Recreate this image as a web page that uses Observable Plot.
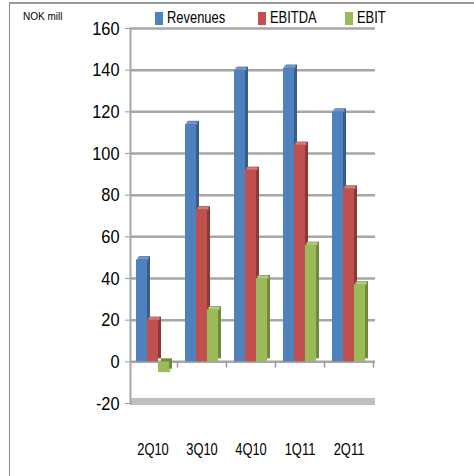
<!DOCTYPE html>
<html><head><meta charset="utf-8">
<script src="https://cdn.jsdelivr.net/npm/d3@7"></script>
<script src="https://cdn.jsdelivr.net/npm/@observablehq/plot@0.6"></script>
<style>
body{margin:0;background:#fff}
#wrap{position:relative;width:474px;height:476px;overflow:hidden;background:#fff}
#border{position:absolute;left:9px;top:2px;width:480px;height:490px;border-top:2px solid #9a9a9a;border-left:1px solid #8a8a8a;pointer-events:none}
#chart{position:absolute;left:0;top:0}
.sw{position:absolute;top:12px;width:8px;height:13px}
.lt{position:absolute;top:8px;font-family:"Liberation Sans",Arial,sans-serif;font-size:17px;line-height:20px;color:#000;white-space:nowrap;transform:scaleX(0.76);transform-origin:0 0}
#unit{position:absolute;left:23px;top:11px;font-family:"Liberation Sans",Arial,sans-serif;font-size:10px;color:#000}
</style></head>
<body>
<div id="wrap">
  <div id="chart"></div>
  <div id="unit">NOK mill</div>
  <div id="legend"></div>
  <div id="border"></div>
</div>
<script>
const quarters = ["2Q10", "3Q10", "4Q10", "1Q11", "2Q11"];
const revenues = [49, 114, 140, 141, 120];
const ebitda   = [20, 73, 92, 104, 83];
const ebit     = [-5, 25, 40, 56, 37];
const seriesNames = ["Revenues", "EBITDA", "EBIT"];
const yTicks = [-20, 0, 20, 40, 60, 80, 100, 120, 140, 160];

const frontColors = ["#4F81BD", "#C0504D", "#9BBB59"];
const sideColors  = ["#385D8A", "#8C3836", "#6E8A3A"];
const topColors   = ["#7397C9", "#D07C7A", "#B3CB85"];
const offsets = [-11, 0, 11];

const rows = quarters.map((q, i) => ({quarter: q, Revenues: revenues[i], EBITDA: ebitda[i], EBIT: ebit[i]}));

const font = "Liberation Sans, Arial, sans-serif";

const barMarks = [];
seriesNames.forEach((s, k) => {
  barMarks.push(Plot.barY(rows, {x: "quarter", y: s, fill: sideColors[k], dx: offsets[k] + 3, dy: -3, insetLeft: 19, insetRight: 19}));
  barMarks.push(Plot.tickY(rows, {x: "quarter", y: s, stroke: topColors[k], strokeWidth: 3, dx: offsets[k] + 1.5, dy: -1.5, insetLeft: 19, insetRight: 19}));
  barMarks.push(Plot.barY(rows, {x: "quarter", y: s, fill: frontColors[k], dx: offsets[k], insetLeft: 19, insetRight: 19}));
});

const chart = Plot.plot({
  width: 474,
  height: 476,
  marginLeft: 130,
  marginRight: 99,
  marginTop: 28,
  marginBottom: 73,
  style: {background: "transparent", fontFamily: font},
  x: {type: "band", domain: quarters, range: [127.5, 372.5], padding: 0},
  y: {domain: [-20, 160]},
  marks: [
    Plot.ruleY(yTicks.filter(d => d >= 0), {stroke: "#a6a6a6", strokeWidth: 2.5}),
    Plot.ruleY([-20], {stroke: "#bfbfbf", strokeWidth: 7, dy: -2}),
    Plot.frame({anchor: "left", stroke: "#a6a6a6", strokeWidth: 2}),
    Plot.ruleX(quarters, {x: d => d, y1: 0, y2: -3, dx: 24.5, stroke: "#999", strokeWidth: 1.5}),
    Plot.axisY({ticks: yTicks, tickFormat: d => String(d), tickSize: 5, tickPadding: 6, fontSize: 19, stroke: "#999", fill: "#000", label: null}),
    Plot.axisX({tickSize: 0, tickPadding: 39, fontSize: 17, fill: "#000", label: null}),
    ...barMarks
  ]
});

document.getElementById("chart").appendChild(chart);

function squeeze(sel, s) {
  chart.querySelectorAll(sel).forEach(el => {
    const w = el.getComputedTextLength();
    if (w > 0) {
      el.setAttribute("textLength", (w * s).toFixed(2));
      el.setAttribute("lengthAdjust", "spacingAndGlyphs");
    }
  });
}
squeeze('g[aria-label="y-axis tick label"] text', 0.86);
squeeze('g[aria-label="x-axis tick label"] text', 0.76);

const legendPos = [155, 258, 345];
const legend = document.getElementById("legend");
seriesNames.forEach((s, k) => {
  const sw = document.createElement("div");
  sw.className = "sw";
  sw.style.left = legendPos[k] + "px";
  sw.style.background = frontColors[k];
  legend.appendChild(sw);
  const tx = document.createElement("div");
  tx.className = "lt";
  tx.style.left = (legendPos[k] + 12) + "px";
  tx.textContent = s;
  legend.appendChild(tx);
});
</script>
</body></html>
